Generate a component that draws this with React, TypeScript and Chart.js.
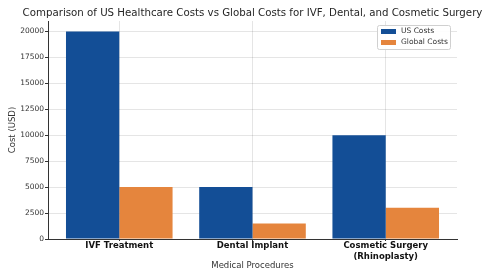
import React, { useEffect, useRef } from "react";
import { Chart, registerables } from "chart.js";

Chart.register(...registerables);

const categories: string[][] = [["IVF Treatment"], ["Dental Implant"], ["Cosmetic Surgery", "(Rhinoplasty)"]];
const usCosts: number[] = [20000, 5000, 10000];
const globalCosts: number[] = [5000, 1500, 3000];
const yTicks: number[] = [0, 2500, 5000, 7500, 10000, 12500, 15000, 17500, 20000];
const titleText = "Comparison of US Healthcare Costs vs Global Costs for IVF, Dental, and Cosmetic Surgery";
const seriesNames = ["US Costs", "Global Costs"];
const colors = ["#134e96", "#e5853d"];

const FONT = "'DejaVu Sans', sans-serif";

const overlay = {
  id: "overlay",
  afterDraw(chart: any) {
    const { ctx, chartArea } = chart;
    ctx.save();
    let size = 11.5;
    ctx.font = `${size}px ${FONT}`;
    const w = ctx.measureText(titleText).width;
    size = size * 460 / w;
    ctx.font = `${size}px ${FONT}`;
    ctx.fillStyle = "#262626";
    ctx.textAlign = "center";
    ctx.textBaseline = "middle";
    ctx.fillText(titleText, (chartArea.left + chartArea.right) / 2, 13);
    const bx = chartArea.right - 80, by = chartArea.top + 4, bw = 73, bh = 24;
    ctx.fillStyle = "rgba(255,255,255,0.9)";
    ctx.strokeStyle = "#d0d0d0";
    ctx.lineWidth = 1;
    ctx.beginPath();
    ctx.roundRect(bx + 0.5, by + 0.5, bw, bh, 2);
    ctx.fill();
    ctx.stroke();
    ctx.font = `7.5px ${FONT}`;
    ctx.textAlign = "left";
    seriesNames.forEach((name, i) => {
      const cy = by + 6.5 + i * 11;
      ctx.fillStyle = colors[i];
      ctx.fillRect(bx + 4, cy - 2.5, 15, 5);
      ctx.fillStyle = "#333333";
      ctx.fillText(name, bx + 24, cy);
    });
    ctx.restore();
  },
};

export default function App() {
  const ref = useRef<HTMLCanvasElement | null>(null);
  useEffect(() => {
    document.body.style.margin = "0";
    const canvas = ref.current!;
    const chart = new Chart(canvas, {
      type: "bar",
      data: {
        datasets: [
          {
            label: seriesNames[0],
            data: usCosts.map((v, i) => ({ x: i, y: v })),
            backgroundColor: colors[0],
            categoryPercentage: 0.8,
            barPercentage: 1,
          },
          {
            label: seriesNames[1],
            data: globalCosts.map((v, i) => ({ x: i, y: v })),
            backgroundColor: colors[1],
            categoryPercentage: 0.8,
            barPercentage: 1,
          },
        ],
      },
      options: {
        animation: false,
        responsive: false,
        maintainAspectRatio: false,
        layout: { padding: { top: 21, right: 26, left: 0, bottom: 0 } },
        plugins: {
          legend: { display: false },
          title: { display: false },
          tooltip: { enabled: false },
        },
        scales: {
          x: {
            type: "linear",
            min: -0.535,
            max: 2.535,
            offset: false,
            afterBuildTicks: (axis: any) => {
              axis.ticks = categories.map((_, i) => ({ value: i }));
            },
            afterFit: (s: any) => {
              s.height = 35;
            },
            ticks: {
              autoSkip: false,
              maxRotation: 0,
              padding: 0,
              color: "#111111",
              font: { family: FONT, size: 8.5, weight: "bold" },
              callback: (v: any) => categories[Math.round(Number(v))] ?? "",
            },
            grid: {
              offset: false,
              color: "rgba(0,0,0,0.10)",
              borderDash: [3, 2],
              tickBorderDash: [],
              tickColor: "#333333",
              tickLength: 2,
              drawTicks: true,
            },
            border: { display: true, color: "#333333", width: 1 },
            title: {
              display: true,
              text: "Medical Procedures",
              color: "#333333",
              font: { family: FONT, size: 8.5 },
              padding: { top: 0, bottom: 3 },
            },
          },
          y: {
            min: 0,
            max: 21000,
            afterBuildTicks: (axis: any) => {
              axis.ticks = yTicks.map((v) => ({ value: v }));
            },
            afterFit: (s: any) => {
              s.width = 48;
            },
            ticks: {
              padding: 1,
              color: "#333333",
              font: { family: FONT, size: 7.5 },
              callback: (v: any) => String(v),
            },
            grid: {
              color: "rgba(0,0,0,0.10)",
              borderDash: [3, 2],
              tickBorderDash: [],
              tickColor: "#333333",
              tickLength: 3,
              drawTicks: true,
            },
            border: { display: true, color: "#333333", width: 1 },
            title: {
              display: true,
              text: "Cost (USD)",
              color: "#333333",
              font: { family: FONT, size: 8.5 },
              padding: { top: 8, bottom: 0 },
            },
          },
        },
      } as any,
      plugins: [overlay],
    });
    return () => chart.destroy();
  }, []);
  return (
    <div style={{ width: 483, height: 274 }}>
      <canvas ref={ref} width={483} height={274} style={{ width: 483, height: 274, display: "block" }} />
    </div>
  );
}
